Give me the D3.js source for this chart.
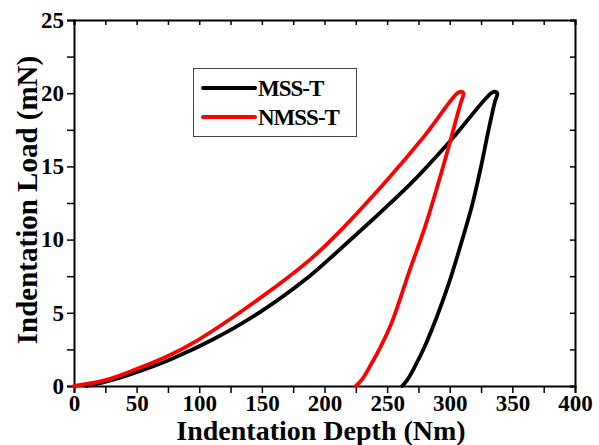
<!DOCTYPE html>
<html>
<head>
<meta charset="utf-8" />
<title>Indentation</title>
<style>
* { padding: 0; margin: 0; }
body { background: #fff; }
#chart { width: 599px; height: 445px; }
svg text { font-family: "Liberation Serif", Tinos, "Times New Roman", Times, "DejaVu Serif", serif !important; font-weight: bold; }
</style>
</head>
<body>
<div id="chart"></div>
<script src="https://cdn.jsdelivr.net/npm/d3@7"></script>
<script>
    // depth (nm) / load (mN)
    var mssDepth  = [10, 30, 50, 75, 110, 148.5, 188, 208, 268, 300, 333, 336, 338, 336, 331, 325, 318, 310, 300, 290, 280, 272, 266, 262]
    var mssLoad   = [0, 0.4, 0.95, 1.75, 3.14, 5.05, 7.5, 9.0, 13.75, 16.7, 20, 20.1, 20, 19.4, 17.5, 15, 12.4, 10, 7.2, 4.8, 2.7, 1.3, 0.4, 0]
    var nmssDepth = [0, 25, 50, 75, 99, 148.5, 188, 208, 250, 280, 306, 309, 311, 309, 306, 300, 290, 280, 268, 254, 245, 236, 230, 225]
    var nmssLoad  = [0, 0.4, 1.16, 2.05, 3.14, 6.0, 8.6, 10.2, 14.07, 17.1, 20, 20.1, 20, 19.4, 18.5, 16.6, 13.6, 10.8, 7.9, 4.4, 2.7, 1.3, 0.45, 0]

    var seriesNames = ["MSS-T", "NMSS-T"]
    var seriesColors = ["#000000", "#ff0000"]
    var xTicks = [0, 50, 100, 150, 200, 250, 300, 350, 400]
    var yTicks = [0, 5, 10, 15, 20, 25]

    var width = 599, height = 445
    var margin = {top: 20, left: 74, right: 24, bottom: 59}

    var svg = d3.select("#chart").append("svg")
        .attr("width", width).attr("height", height)

    var x = d3.scaleLinear().domain([0, 400]).range([margin.left, width - margin.right])
    var y = d3.scaleLinear().domain([0, 25]).range([height - margin.bottom, margin.top])

    var minorX = d3.range(0, 401, 25)
    var minorY = d3.range(0, 25.01, 2.5)

    // bottom axis, ticks outward
    var gx = svg.append("g").attr("transform", "translate(0," + y(0) + ")")
        .call(d3.axisBottom(x).tickValues(minorX).tickSize(7).tickFormat(function(d) { return xTicks.indexOf(d) >= 0 ? d : "" }))
    // left axis, ticks outward
    var gy = svg.append("g").attr("transform", "translate(" + x(0) + ",0)")
        .call(d3.axisLeft(y).tickValues(minorY).tickSize(7).tickFormat(function(d) { return yTicks.indexOf(d) >= 0 ? d : "" }))
    // top and right axes, ticks inward, no labels
    var gt = svg.append("g").attr("transform", "translate(0," + y(25) + ")")
        .call(d3.axisTop(x).tickValues(minorX).tickSize(-5).tickFormat(""))
    var gr = svg.append("g").attr("transform", "translate(" + x(400) + ",0)")
        .call(d3.axisRight(y).tickValues(minorY).tickSize(-5).tickFormat(""))

    ;[gx, gy, gt, gr].forEach(function(g) {
        g.attr("font-family", null)
        g.select(".domain").attr("stroke", "#000").attr("stroke-width", 2)
        g.selectAll(".tick line").attr("stroke", "#000").attr("stroke-width", 1.5)
    })
    gx.selectAll(".tick text").attr("font-size", 23).attr("fill", "#000").attr("y", 9)
    gy.selectAll(".tick text").attr("font-size", 23).attr("fill", "#000").attr("x", -10)

    // curves
    var line = d3.line()
        .x(function(d) { return x(d[0]) })
        .y(function(d) { return y(d[1]) })
        .curve(d3.curveCatmullRom)

    var series = [
        d3.zip(mssDepth, mssLoad),
        d3.zip(nmssDepth, nmssLoad)
    ]
    svg.append("g").selectAll("path")
        .data(series)
        .enter().append("path")
        .attr("d", line)
        .attr("fill", "none")
        .attr("stroke", function(d, i) { return seriesColors[i] })
        .attr("stroke-width", 3.8)
        .attr("stroke-linejoin", "round")
        .attr("stroke-linecap", "round")

    // legend
    var lg = svg.append("g")
    lg.append("rect").attr("x", 193.5).attr("y", 68.5).attr("width", 163).attr("height", 68)
        .attr("fill", "#fff").attr("stroke", "#444").attr("stroke-width", 1)
    seriesNames.forEach(function(name, i) {
        var ly = 88 + i * 29
        lg.append("line").attr("x1", 203).attr("x2", 255).attr("y1", ly).attr("y2", ly)
            .attr("stroke", seriesColors[i]).attr("stroke-width", 4).attr("stroke-linecap", "round")
        lg.append("text").attr("x", 258).attr("y", ly + 8).attr("font-size", 23)
            .attr("letter-spacing", -1).text(name)
    })

    // axis titles
    svg.append("text").attr("x", 321).attr("y", 440).attr("text-anchor", "middle")
        .attr("font-size", 28).text("Indentation Depth (Nm)")
    svg.append("text").attr("transform", "translate(37,200) rotate(-90)").attr("text-anchor", "middle")
        .attr("font-size", 29).text("Indentation Load (mN)")
</script>
</body>
</html>
